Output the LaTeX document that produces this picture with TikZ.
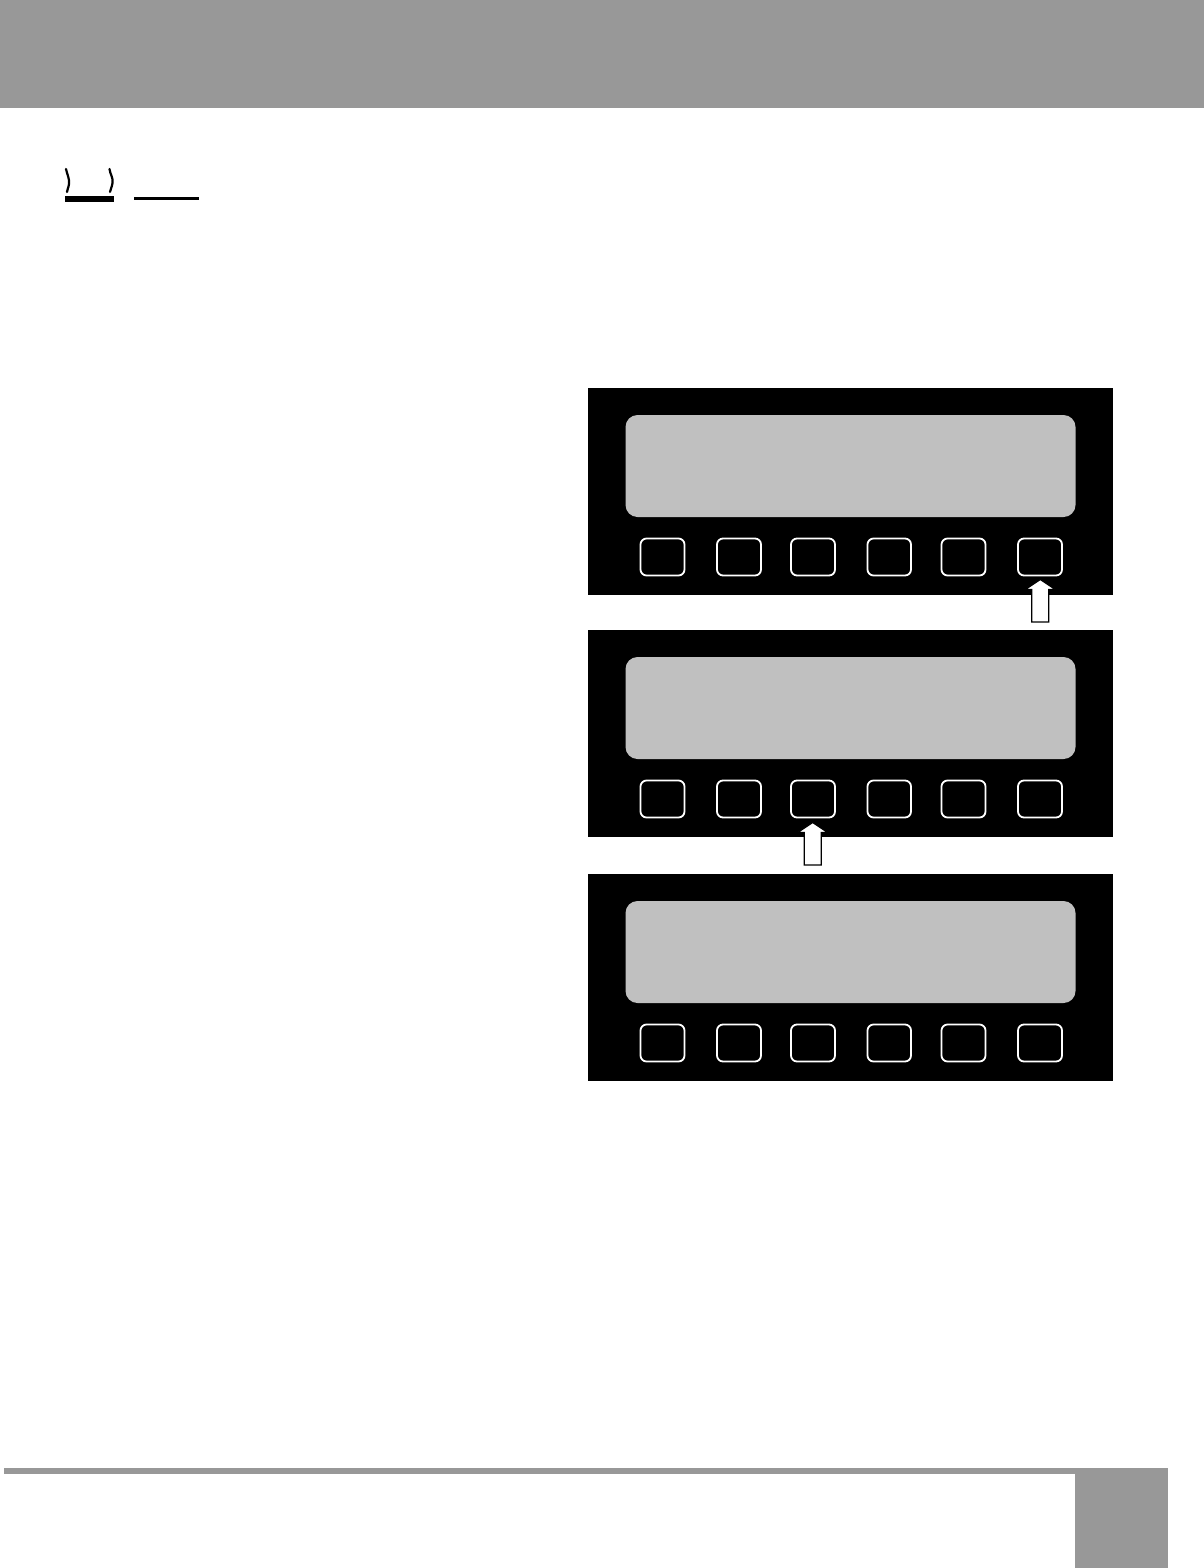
\documentclass[tikz,border=0pt]{standalone}
\definecolor{bandgray}{HTML}{989898}
\definecolor{lcdgray}{HTML}{C0C0C0}
\tikzset{
  px/.style={x=0.5pt,y=-0.5pt},
  band/.style={fill=bandgray,draw=none},
  panel/.style={fill=black,draw=none},
  lcd/.style={fill=lcdgray,draw=none,rounded corners=6pt},
  keycap/.style={draw=white,line width=0.9pt,fill=black,rounded corners=3pt},
  pressarrow/.style={draw=black,line width=0.6pt,fill=white,line join=miter},
  squiggle/.style={draw=black,line width=1.1pt,line cap=round},
}
\newcommand{\lcdpanel}[1]{%
  \fill[panel] (588,#1) rectangle (1113,#1+207);
  \fill[lcd] (625.5,#1+27) rectangle (1075.5,#1+129);
  \foreach \kl/\kr in {640.5/684.5,717/761,791/835,867.5/911,941.5/985.5,1018/1062}{
    \draw[keycap] (\kl,#1+150.5) rectangle (\kr,#1+187.5);
  }%
}
\newcommand{\uparrowmark}[2]{% centre x, tip y
  \draw[pressarrow] (#1,#2-1.5) -- (#1+15,#2+8.5) -- (#1+8.5,#2+8.5) -- (#1+8.5,#2+41)
    -- (#1-8.5,#2+41) -- (#1-8.5,#2+8.5) -- (#1-15,#2+8.5) -- cycle;
}
\begin{document}
\begin{tikzpicture}[px]
\useasboundingbox (0,0) rectangle (1204,1568);
\fill[white] (0,0) rectangle (1204,1568);
% header
\fill[band] (0,0) rectangle (1204,108);
% heading remnants
\draw[squiggle] (66,169) .. controls (67,174) and (70,180) .. (69,184) .. controls (68.5,188) and (67,190) .. (67,192);
\draw[squiggle] (109.5,169) .. controls (110,174) and (113.5,178) .. (112.5,183) .. controls (112,187) and (110.5,189) .. (110,192);
\fill[black] (65,196) rectangle (113.5,201.5);
\fill[black] (134,197) rectangle (199,199.5);
% panels
\lcdpanel{388}
\lcdpanel{630}
\lcdpanel{874}
% arrows
\uparrowmark{1040.3}{581}
\uparrowmark{812.7}{824}
% footer
\fill[band] (4,1468) rectangle (1168,1474);
\fill[band] (1075,1468) rectangle (1168,1568);
\end{tikzpicture}
\end{document}
